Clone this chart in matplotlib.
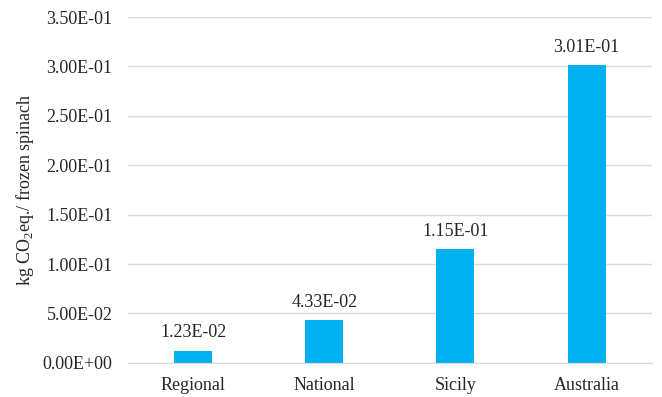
import matplotlib
matplotlib.use("Agg")
import matplotlib.pyplot as plt
import numpy as np

categories = ["Regional", "National", "Sicily", "Australia"]
values = [1.23e-02, 4.33e-02, 1.15e-01, 3.01e-01]
value_labels = ["1.23E-02", "4.33E-02", "1.15E-01", "3.01E-01"]
yticks = [0.0, 0.05, 0.10, 0.15, 0.20, 0.25, 0.30, 0.35]

plt.rcParams['font.family'] = ['Liberation Serif', 'DejaVu Serif']
plt.rcParams['mathtext.fontset'] = 'custom'
plt.rcParams['mathtext.rm'] = 'Liberation Serif'

fig = plt.figure(figsize=(6.62, 3.97), dpi=100)
ax = fig.add_axes([0.193, 0.086, 0.792, 0.871])

fs = 13
x = np.arange(len(categories))
ax.bar(x, values, width=0.29, color="#00B0F0", zorder=3)
for xi, v, lab in zip(x, values, value_labels):
    ax.text(xi, v + 0.0095, lab, ha="center", va="bottom", fontsize=fs, color="#262626")

ax.set_xlim(-0.5, 3.5)
ax.set_ylim(0, 0.35)
ax.set_yticks(yticks)
ax.set_yticklabels(["%.2E" % t for t in yticks], fontsize=fs, color="#262626")
ax.set_xticks(x)
ax.set_xticklabels(categories, fontsize=fs, color="#262626")
ax.tick_params(axis="y", length=0, pad=11)
ax.tick_params(axis="x", length=0, pad=10)
ax.yaxis.grid(True, color="#D9D9D9", linewidth=1, zorder=0)
for s in ["top", "right", "left"]:
    ax.spines[s].set_visible(False)
ax.spines["bottom"].set_color("#D9D9D9")
ax.spines["bottom"].set_zorder(4)
ax.set_ylabel(r"kg CO$_2$eq./ frozen spinach", fontsize=fs, color="#262626", labelpad=5)

fig.savefig("out.png", dpi=100)
